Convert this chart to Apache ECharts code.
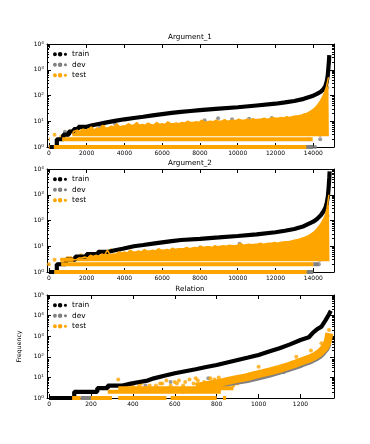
<!DOCTYPE html>
<html>
<head>
<meta charset="utf-8">
<script src="https://cdn.jsdelivr.net/npm/echarts@6/dist/echarts.min.js"></script>
<style>
  html, body { margin: 0; padding: 0; background: #fff; }
  #chart { width: 370px; height: 444px; }
</style>
</head>
<body>
<div id="chart"></div>
<script>
// ---- Argument_1 ----
const train1 = [[0,1],[420,1],[420,2],[760,2],[760,3],[1060,3],[1060,4],[1320,4],[1320,5],[1560,5],[1560,6],[1950,6],[1950,7],[2300,7],[2300,8],[2700,8],[3000,8.8],[3500,10.3],[4000,11.9],[4500,13.4],[5000,15],[5500,17],[6000,19],[6500,21],[7000,23],[7500,25],[8000,27],[9000,31],[10000,35],[11000,41],[12000,48],[12500,54],[13000,61],[13500,74],[14000,98],[14200,115],[14400,140],[14550,180],[14650,240],[14720,360],[14770,600],[14800,1100],[14830,2000],[14850,3700]]
const testTop1 = [[1250,3],[1300,4],[1400,3.5],[1500,4.5],[1650,4],[1800,5],[1950,4.5],[2100,5],[2250,6],[2400,4.5],[2550,5.5],[2700,5],[2850,7],[3000,5.5],[3150,5.5],[3300,6.5],[3450,6],[3600,8],[3750,6],[3900,6.5],[4050,6.5],[4200,8],[4350,7],[4500,7],[4650,9],[4800,7],[4950,7.5],[5100,7],[5250,8.5],[5400,7.5],[5550,7],[5700,9],[5850,7.5],[6000,8],[6150,7.5],[6300,9.5],[6450,8],[6600,8],[6750,8.5],[6900,8],[7050,9],[7200,8.5],[7350,10],[7500,9],[7650,9],[7800,9.5],[7950,9],[8100,11],[8250,9],[8400,9.5],[8550,10],[8700,9.5],[8850,11],[9000,10],[9150,10],[9300,11.5],[9450,10],[9600,10.5],[9750,11],[9900,10.5],[10050,12],[10200,11],[10350,11],[10500,12],[10650,11],[10800,12.5],[10950,11.5],[11100,12],[11250,12],[11400,13],[11550,12],[11700,12.5],[11850,14],[12000,13],[12150,13],[12300,14],[12450,13.5],[12600,15],[12750,14],[12900,15],[13050,16],[13200,16],[13350,17],[13500,19],[13650,20],[13800,23],[13950,27],[14100,33],[14250,45],[14400,65],[14500,90],[14600,130],[14700,220],[14760,350],[14800,480],[14830,500]]
const testRows1 = [[0,40,1],[260,13630,1],[0,40,2],[700,13970,2]]
const testDots1 = [[300,3],[650,2.5],[850,3],[950,3],[1100,4],[1200,4],[1700,5.5],[2300,6.5],[2900,7.5]]
const devRows1 = [[13600,14000,1],[12800,12900,1]]
const devDots1 = [[850,3.9],[1500,4.6],[2700,6.2],[3500,8],[8250,11],[8960,13],[9700,12],[10600,12.5],[11800,13.5],[13760,2],[14100,1],[14370,2],[14370,3],[14200,4],[14430,6],[14500,10],[14550,20],[14600,35],[14650,60],[14700,110],[14740,200],[14430,23.5],[14600,9.6],[14600,4.6]]

// ---- Argument_2 ----
const train2 = [[0,1],[420,1],[420,2],[900,2],[900,3],[1400,3],[1400,4],[2000,4],[2000,5],[2600,5],[2600,6],[3100,6],[3100,7],[3500,7],[3500,8],[3900,8],[4000,8.8],[4500,10],[5000,11.2],[5500,12.6],[6000,14.2],[6500,15.8],[7000,17.5],[8000,19.5],[9000,22],[10000,25],[11000,29],[12000,35],[12500,40],[13000,47],[13500,60],[14000,90],[14200,115],[14400,160],[14550,230],[14650,320],[14720,500],[14780,900],[14820,2000],[14850,4500],[14870,8000]]
const testTop2 = [[1200,3],[1300,3.5],[1450,3],[1600,3.5],[1750,3.5],[1900,3.8],[2050,3.5],[2200,4.5],[2350,4],[2500,4.5],[2650,4],[2800,5],[2950,4.5],[3100,7],[3250,4.5],[3400,5],[3550,5],[3700,6],[3850,5.5],[4000,6],[4150,5.5],[4300,7],[4450,6],[4600,6],[4750,6.5],[4900,6],[5050,7.5],[5200,6.5],[5350,6.5],[5500,7],[5650,6.5],[5800,8],[5950,7],[6100,7],[6250,7.5],[6400,7],[6550,8.5],[6700,7.5],[6850,8],[7000,8],[7150,8],[7300,9],[7450,8],[7600,8.5],[7750,9],[7900,8.5],[8050,10],[8200,9],[8350,9.5],[8500,9.5],[8650,9],[8800,10.5],[8950,9.5],[9100,10],[9250,10.5],[9400,10],[9550,11],[9700,10.5],[9850,10.5],[10000,11],[10150,13],[10300,11],[10450,11.5],[10600,12],[10750,11.5],[10900,12],[11050,12],[11200,13],[11350,12],[11500,12.5],[11650,13],[11800,13],[11950,14],[12100,13],[12250,14],[12400,14.5],[12550,15],[12700,15],[12850,16],[13000,17],[13150,18],[13300,19],[13450,21],[13600,23],[13750,26],[13900,30],[14050,36],[14200,48],[14350,65],[14450,85],[14550,115],[14650,170],[14730,300],[14790,600],[14830,1000],[14860,1000]]
const testRows2 = [[0,30,1],[280,13650,1],[650,14000,2],[600,1300,3]]
const testDots2 = [[0,2],[300,3],[1000,3.5],[1150,3.5],[1700,4.5],[2400,5],[3300,7]]
const devRows2 = [[13650,14000,1],[14000,14300,2]]
const devDots2 = [[500,2],[900,3],[3000,6],[3700,6.5],[8000,9],[10100,12.5],[13700,1],[13900,1],[14300,2],[14350,3],[14450,5],[14550,10],[14620,20],[14680,40],[14720,80],[14760,150]]

// ---- Relation ----
const train3 = [[0,1],[120,1],[120,2],[230,2],[230,3],[280,3],[280,4],[350,4],[350,5],[390,5],[390,6],[430,6],[430,7],[470,7],[470,8],[500,9],[550,12],[600,16],[650,20],[700,25],[750,32],[800,40],[850,53],[900,70],[950,92],[1000,122],[1050,180],[1100,260],[1150,400],[1200,650],[1240,890],[1260,1500],[1280,2200],[1300,2900],[1320,6000],[1335,11000],[1345,17000]]
const testBand3 = [[700,3.5],[740,4],[780,4.8],[820,5.5],[860,7],[900,8.5],[940,10],[980,13],[1020,16],[1060,20],[1100,26],[1140,35],[1180,48],[1210,62],[1240,80],[1270,110],[1290,150],[1305,210],[1320,320],[1330,550],[1338,1400]]
const devBand3 = [[760,3.8],[800,4.5],[840,5],[860,6],[900,7],[940,8],[980,10],[1020,12.5],[1060,16],[1100,21],[1140,28],[1180,38],[1210,50],[1240,64],[1270,90],[1290,120],[1305,170],[1320,260],[1330,450]]
const testRows3 = [[110,150,1],[200,300,1],[330,560,1],[580,800,1],[830,845,1],[280,820,2],[330,880,3]]
const testDots3 = [[130,2],[180,2],[330,8],[360,3],[400,4],[430,4],[440,5],[460,3],[480,4],[510,4],[530,5],[540,5],[560,7],[580,4],[600,6],[610,5],[620,7],[640,4],[650,6],[670,8],[690,5],[700,9],[710,7],[740,6],[760,5],[770,9],[790,8],[810,10],[880,4],[900,5],[1180,100],[1250,200],[1300,450],[1336,2000],[1000,33]]
const devRows3 = [[150,200,1]]
const devDots3 = [[400,3],[460,4],[520,3],[580,6],[640,2],[720,4],[760,9],[830,5],[870,6],[920,6],[960,8],[1000,9],[1050,12],[1120,18],[1200,35]]

const titles = ['Argument_1', 'Argument_2', 'Relation']
const xTicks12 = [0,2000,4000,6000,8000,10000,12000,14000]
const xTicks3 = [0,200,400,600,800,1000,1200]

const FONT = 'DejaVu Sans'
const ORANGE = '#ffa500', GRAY = '#808080', BLACK = '#000000'
const dots = 'path://M2,2.6m-2,0a2,2 0 1,0 4,0a2,2 0 1,0 -4,0M7.3,2.6m-2.3,0a2.3,2.3 0 1,0 4.6,0a2.3,2.3 0 1,0 -4.6,0M12.8,2.6m-1.6,0a1.6,1.6 0 1,0 3.2,0a1.6,1.6 0 1,0 -3.2,0'

function rows(list) {
  let out = []
  list.forEach(r => { out.push([r[0], r[2]], [r[1], r[2]], [r[1], '-']) })
  return out
}
function decades(maxExp) {
  let major = [], minor = []
  for (let e = 0; e <= maxExp; e++) {
    major.push(Math.pow(10, e))
    if (e < maxExp) for (let k = 2; k <= 9; k++) minor.push(k * Math.pow(10, e))
  }
  return { major, minor }
}

const panels = [
  { top: 44, xmin: -100, xmax: 15100, xt: xTicks12, yexp: 4, train: train1, top_: testTop1, tRows: testRows1, tDots: testDots1, dRows: devRows1, dDots: devDots1, titleTop: 34, legendTop: 49 },
  { top: 169, xmin: -100, xmax: 15100, xt: xTicks12, yexp: 4, train: train2, top_: testTop2, tRows: testRows2, tDots: testDots2, dRows: devRows2, dDots: devDots2, titleTop: 160, legendTop: 174 },
  { top: 295, xmin: -10, xmax: 1360, xt: xTicks3, yexp: 5, train: train3, band: testBand3, dBand: devBand3, tRows: testRows3, tDots: testDots3, dRows: devRows3, dDots: devDots3, titleTop: 286, legendTop: 300 }
]

let grid = [], xAxis = [], yAxis = [], series = [], title = [], legend = []

panels.forEach((p, g) => {
  grid.push({ left: 47, top: p.top, width: 287, height: 103 })
  title.push({ text: titles[g], left: 190, top: p.titleTop, textAlign: 'center', padding: 0,
    textStyle: { fontFamily: FONT, fontSize: 7.2, fontWeight: 'normal', color: BLACK } })
  legend.push({ left: 53, top: p.legendTop, orient: 'vertical', itemWidth: 14, itemHeight: 4.6, itemGap: 0, padding: 0,
    selectedMode: false,
    data: [{ name: 'train', icon: dots }, { name: 'dev', icon: dots }, { name: 'test', icon: dots }],
    textStyle: { fontFamily: FONT, fontSize: 7.4, color: BLACK, lineHeight: 10.5 } })

  const lineStyle = { color: BLACK, width: 1 }
  ;['bottom', 'top'].forEach(pos => {
    xAxis.push({ type: 'value', gridIndex: g, position: pos, min: p.xmin, max: p.xmax,
      axisLine: { show: true, onZero: false, lineStyle },
      axisTick: { show: true, inside: true, length: 4, customValues: p.xt, lineStyle },
      axisLabel: { show: pos === 'bottom', customValues: p.xt, formatter: v => String(v),
        fontFamily: FONT, fontSize: 6, color: BLACK, margin: 3 },
      splitLine: { show: false } })
  })
  const d = decades(p.yexp)
  ;[['left', true], ['right', true], ['left', false], ['right', false]].forEach(([pos, isMajor]) => {
    yAxis.push({ type: 'log', gridIndex: g, position: pos, min: 1, max: Math.pow(10, p.yexp),
      name: (g === 2 && pos === 'left' && isMajor) ? 'Frequency' : '',
      nameLocation: 'middle', nameGap: 19,
      nameTextStyle: { fontFamily: FONT, fontSize: 6.2, color: BLACK },
      axisLine: { show: isMajor, onZero: false, lineStyle },
      axisTick: { show: true, inside: true, length: isMajor ? 4 : 2, customValues: isMajor ? d.major : d.minor, lineStyle },
      axisLabel: { show: isMajor && pos === 'left', customValues: d.major, margin: 3,
        formatter: v => '{b|10}{s|' + Math.round(Math.log10(v)) + '}',
        rich: { b: { fontFamily: FONT, fontSize: 6, color: BLACK }, s: { fontFamily: FONT, fontSize: 4.2, color: BLACK, verticalAlign: 'top', padding: [0, 0, 3, 0] } } },
      splitLine: { show: false } })
  })

  const xi = 2 * g, yi = 4 * g
  const base = { xAxisIndex: xi, yAxisIndex: yi, silent: true, animation: false }
  series.push(Object.assign({ type: 'line', name: 'train', color: BLACK, data: p.train, showSymbol: false,
    lineStyle: { color: BLACK, width: 4.2 } }, base))
  if (p.dBand) series.push(Object.assign({ type: 'line', name: 'dev', color: GRAY, data: p.dBand, showSymbol: false,
    lineStyle: { color: GRAY, width: 8 } }, base))
  series.push(Object.assign({ type: 'line', name: 'dev', color: GRAY, data: rows(p.dRows), showSymbol: false,
    connectNulls: false, lineStyle: { color: GRAY, width: 4 } }, base))
  series.push(Object.assign({ type: 'scatter', name: 'dev', color: GRAY, data: p.dDots, symbolSize: 4,
    itemStyle: { color: GRAY } }, base))
  if (p.top_) series.push(Object.assign({ type: 'line', name: 'test', color: ORANGE, data: p.top_, showSymbol: false,
    lineStyle: { color: ORANGE, width: 1.5 }, areaStyle: { color: ORANGE, opacity: 1, origin: 2.6 } }, base))
  if (p.band) series.push(Object.assign({ type: 'line', name: 'test', color: ORANGE, data: p.band, showSymbol: false,
    lineStyle: { color: ORANGE, width: 8 } }, base))
  series.push(Object.assign({ type: 'line', name: 'test', color: ORANGE, data: rows(p.tRows), showSymbol: false,
    connectNulls: false, lineStyle: { color: ORANGE, width: 4 } }, base))
  series.push(Object.assign({ type: 'scatter', name: 'test', color: ORANGE, data: p.tDots, symbolSize: 4,
    itemStyle: { color: ORANGE } }, base))
})

let chart = echarts.init(document.getElementById('chart'))
chart.setOption({
  animation: false,
  backgroundColor: '#fff',
  title: title,
  legend: legend,
  grid: grid,
  xAxis: xAxis,
  yAxis: yAxis,
  series: series
})
</script>
</body>
</html>
